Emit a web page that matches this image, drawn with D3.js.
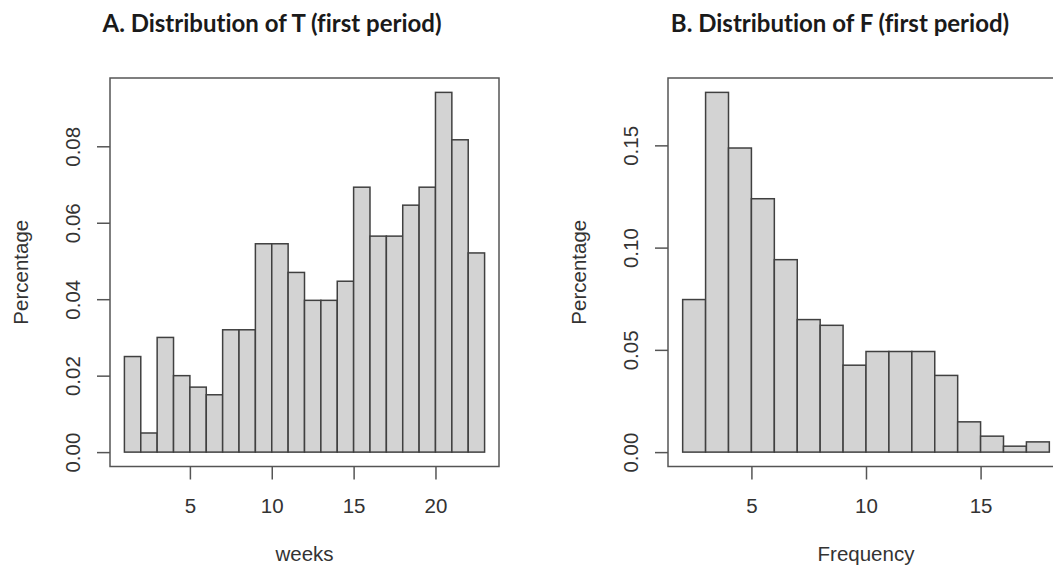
<!DOCTYPE html>
<meta charset="utf-8">
<style>
body {
  margin: 0;
  padding: 0;
  background: #fff;
}
svg text {
  font-family: "Liberation Sans", Arial, sans-serif;
  fill: #333;
}
.title {
  font-family: Lato, "Open Sans", sans-serif !important;
  font-weight: bold;
  font-size: 24px;
  font-variant-ligatures: none;
  fill: #1a1a1a !important;
}
</style>
<script src="https://d3js.org/d3.v7.min.js"></script>

<div id="chart"></div>

<script>

// bin edges and heights
const weekBreaks = [1, 2, 3, 4, 5, 6, 7, 8, 9, 10, 11, 12, 13, 14, 15, 16, 17, 18, 19, 20, 21, 22, 23];
const weekPct = [0.025, 0.005, 0.030, 0.020, 0.017, 0.015, 0.032, 0.032, 0.0545, 0.0545, 0.047,
                 0.0397, 0.0397, 0.0447, 0.0693, 0.0565, 0.0565, 0.0646, 0.0693, 0.0941, 0.0817, 0.0521];
const weekTicksX = [5, 10, 15, 20];
const weekTicksY = [0, 0.02, 0.04, 0.06, 0.08];

const freqBreaks = [2, 3, 4, 5, 6, 7, 8, 9, 10, 11, 12, 13, 14, 15, 16, 17, 18];
const freqPct = [0.0746, 0.1759, 0.1487, 0.1239, 0.0941, 0.0648, 0.0620, 0.0425, 0.0492, 0.0492,
                 0.0492, 0.0375, 0.0148, 0.0078, 0.0029, 0.005];
const freqTicksX = [5, 10, 15];
const freqTicksY = [0, 0.05, 0.10, 0.15];

const W = 1053, H = 567;
const fs = 20.5;

const svg = d3.select("#chart")
  .append("svg")
    .attr("width", W)
    .attr("height", H);

function hist(opt) {
  const g = svg.append("g");
  const xmin = d3.min(opt.breaks), xmax = d3.max(opt.breaks);
  const ymax = d3.max(opt.values);
  // R style 4% padding round the data
  const px = (xmax - xmin) * 0.04, py = ymax * 0.04;

  const x = d3.scaleLinear().domain([xmin - px, xmax + px]).range(opt.xr);
  const y = d3.scaleLinear().domain([-py, ymax + py]).range([466.5, 78]);

  const bins = opt.values.map((v, i) => ({x0: opt.breaks[i], x1: opt.breaks[i + 1], v: v}));

  g.selectAll("rect.bar")
    .data(bins)
    .join("rect")
      .attr("class", "bar")
      .attr("x", d => x(d.x0))
      .attr("width", d => x(d.x1) - x(d.x0))
      .attr("y", d => y(d.v))
      .attr("height", d => y(0) - y(d.v))
      .attr("fill", "#d3d3d3")
      .attr("stroke", "#404040")
      .attr("stroke-width", 1.5);

  // plot box
  g.append("rect")
    .attr("x", opt.xr[0])
    .attr("y", 78)
    .attr("width", opt.xr[1] - opt.xr[0])
    .attr("height", 466.5 - 78)
    .attr("fill", "none")
    .attr("stroke", "#555")
    .attr("stroke-width", 1.5);

  // x axis
  const xa = g.append("g")
    .attr("transform", `translate(0,466.5)`)
    .call(d3.axisBottom(x).tickValues(opt.ticksX).tickSize(13).tickPadding(19).tickFormat(d3.format("d")));
  xa.select(".domain").remove();
  xa.selectAll(".tick line").attr("stroke", "#555").attr("stroke-width", 1.5);
  xa.selectAll(".tick text")
    .attr("font-size", fs)
    .attr("font-family", null)
    .attr("fill", null);

  // y axis, labels turned like R does
  const ya = g.append("g")
    .attr("transform", `translate(${opt.xr[0]},0)`)
    .call(d3.axisLeft(y).tickValues(opt.ticksY).tickSize(13).tickFormat(d3.format(".2f")));
  ya.select(".domain").remove();
  ya.selectAll(".tick line").attr("stroke", "#555").attr("stroke-width", 1.5);
  ya.selectAll(".tick text")
    .attr("x", null)
    .attr("dy", null)
    .attr("font-size", fs)
    .attr("font-family", null)
    .attr("fill", null)
    .attr("text-anchor", "middle")
    .attr("transform", "translate(-30,0) rotate(-90)");

  g.append("text")
    .attr("transform", `translate(${opt.xr[0] - 82},${(78 + 466.5) / 2}) rotate(-90)`)
    .attr("text-anchor", "middle")
    .attr("font-size", fs)
    .text("Percentage");

  g.append("text")
    .attr("x", (opt.xr[0] + opt.xr[1]) / 2)
    .attr("y", 561)
    .attr("text-anchor", "middle")
    .attr("font-size", fs)
    .text(opt.xlab);

  g.append("text")
    .attr("class", "title")
    .attr("x", opt.titleX)
    .attr("y", 32)
    .attr("text-anchor", "middle")
    .text(opt.title);
}

hist({
  breaks: weekBreaks, values: weekPct, ticksX: weekTicksX, ticksY: weekTicksY,
  xr: [110, 499], xlab: "weeks", title: "A. Distribution of T (first period)", titleX: 272
});

hist({
  breaks: freqBreaks, values: freqPct, ticksX: freqTicksX, ticksY: freqTicksY,
  xr: [668, 1064], xlab: "Frequency", title: "B. Distribution of F (first period)", titleX: 840
});

</script>
